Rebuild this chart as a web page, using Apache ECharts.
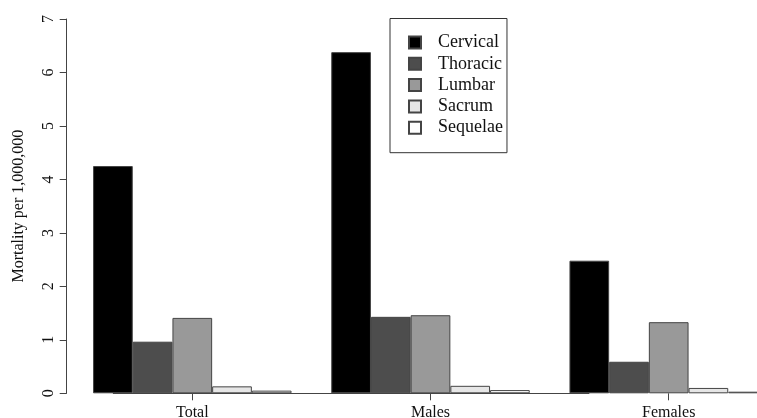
<!DOCTYPE html>
<html>
<head>
<meta charset="utf-8">
<script src="https://cdn.jsdelivr.net/npm/echarts@6/dist/echarts.min.js"></script>
<style>html,body{margin:0;padding:0;background:#fff}#c{width:757px;height:418px}</style>
</head>
<body>
<div id="c"></div>
<script>
var categories = ['Total', 'Males', 'Females'];
var seriesNames = ['Cervical', 'Thoracic', 'Lumbar', 'Sacrum', 'Sequelae'];
var cervical = [4.25, 6.38, 2.48];
var thoracic = [0.965, 1.43, 0.59];
var lumbar = [1.41, 1.46, 1.33];
var sacrum = [0.13, 0.14, 0.10];
var sequelae = [0.05, 0.06, 0.03];
var yTicks = [0, 1, 2, 3, 4, 5, 6, 7];

var values = [cervical, thoracic, lumbar, sacrum, sequelae];
var colors = ['#000000', '#4d4d4d', '#999999', '#e6e6e6', '#ffffff'];
var FONT = '"Liberation Serif", "Times New Roman", serif';

var chart = echarts.init(document.getElementById('c'), null, {renderer: 'canvas'});
var series = seriesNames.map(function (name, i) {
  var s = {
    name: name,
    type: 'bar',
    data: values[i],
    barGap: '0%',
    barCategoryGap: '16.67%',
    itemStyle: {color: colors[i], borderColor: '#444', borderWidth: 1},
    emphasis: {disabled: true},
    animation: false
  };
  if (i === 0) {
    s.markLine = {
      silent: true,
      symbol: 'none',
      animation: false,
      label: {show: false},
      lineStyle: {color: '#444', width: 1, type: 'solid'},
      data: [[{coord: [categories[0], 0]}, {coord: [categories[categories.length - 1], 0]}]]
    };
  }
  return s;
});

chart.setOption({
  animation: false,
  backgroundColor: '#fff',
  textStyle: {fontFamily: FONT},
  grid: {left: 73.2, width: 714.6, top: 19, bottom: 24.7, containLabel: false, outerBoundsMode: 'none'},
  legend: {
    data: seriesNames,
    orient: 'vertical',
    left: 390,
    top: 18.5,
    padding: [15, 4, 16, 18],
    itemWidth: 12,
    itemHeight: 12,
    itemGap: 3.3,
    borderColor: '#333',
    borderWidth: 1,
    icon: 'rect',
    selectedMode: false,
    textStyle: {fontFamily: FONT, fontSize: 18, color: '#111', lineHeight: 18, padding: [0, 0, 0, 12]}
  },
  xAxis: {
    type: 'category',
    data: categories,
    axisLine: {show: false},
    axisTick: {show: true, alignWithLabel: true, length: 7, lineStyle: {color: '#444'}},
    axisLabel: {fontFamily: FONT, fontSize: 16, color: '#111', margin: 11},
    splitLine: {show: false}
  },
  yAxis: {
    type: 'value',
    min: yTicks[0],
    max: yTicks[yTicks.length - 1],
    interval: 1,
    offset: 6.5,
    name: 'Mortality per 1,000,000',
    nameLocation: 'middle',
    nameRotate: 90,
    nameGap: 40,
    nameTextStyle: {fontFamily: FONT, fontSize: 16, color: '#111'},
    axisLine: {show: true, lineStyle: {color: '#444'}},
    axisTick: {show: true, length: 7, lineStyle: {color: '#444'}},
    axisLabel: {fontFamily: FONT, fontSize: 16, color: '#111', rotate: 90, margin: 10},
    splitLine: {show: false}
  },
  series: series
});
</script>
</body>
</html>
